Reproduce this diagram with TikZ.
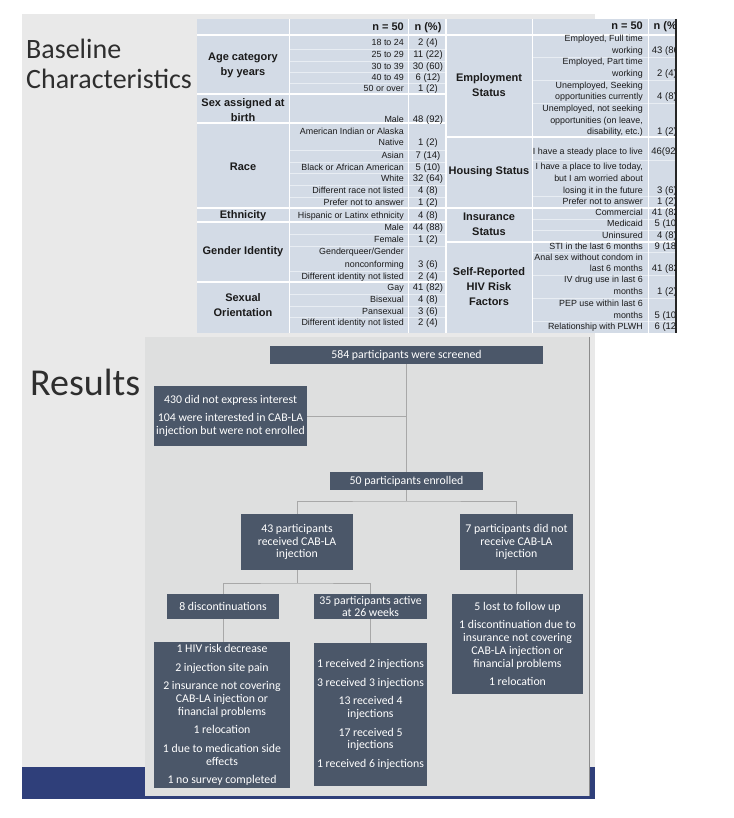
\documentclass[tikz,border=0pt]{standalone}
\usepackage{fontspec}
\setmainfont{Carlito}
\newfontfamily\tabfont{Liberation Sans}
\definecolor{slidebg}{HTML}{E9E9E9}
\definecolor{panelc}{HTML}{DEDFDF}
\definecolor{bandc}{HTML}{2F3F7A}
\definecolor{boxc}{HTML}{4B5769}
\definecolor{lineg}{HTML}{A8A8A8}
\definecolor{tabbg}{HTML}{D3DBE6}
\definecolor{rowln}{HTML}{E8EDF3}
\definecolor{tabtxt}{HTML}{1A1A1A}
\definecolor{titc}{HTML}{2E2E2E}
\newcounter{tn}
\newcommand\TI[3]{\stepcounter{tn}\node[itm] (ti\arabic{tn}) at (#1,#2) {#3};}
\newcommand\TV[3]{\stepcounter{tn}\node[val] (tv\arabic{tn}) at (#1,#2) {#3};}
\newcommand\TC[3]{\stepcounter{tn}\node[cat] (tc\arabic{tn}) at (#1,#2) {#3};}
\tikzset{
  fbox/.style={fill=boxc, text=white, inner sep=0pt, align=center,
    font=\fontsize{11.8}{12.8}\selectfont},
  conn/.style={draw=lineg, line width=0.8pt},
  itm/.style={anchor=mid east, inner sep=0pt, text=tabtxt,
    font=\tabfont\fontsize{8.9}{10}\selectfont},
  val/.style={anchor=mid, inner sep=0pt, text=tabtxt,
    font=\tabfont\fontsize{9.5}{10}\selectfont},
  cat/.style={anchor=center, inner sep=0pt, text=tabtxt, align=center,
    font=\tabfont\bfseries\fontsize{11}{15}\selectfont},
  hdr/.style={inner sep=0pt, text=tabtxt, font=\tabfont\bfseries\fontsize{11}{13}\selectfont},
  grpln/.style={draw=white, line width=1.6pt},
  rowl/.style={draw=rowln, line width=0.7pt},
  title/.style={inner sep=0pt, anchor=base west, text=titc}
}
\begin{document}
\begin{tikzpicture}[x=1pt,y=-1pt]
\useasboundingbox (0,0) rectangle (733,818);
% slide background
\fill[slidebg] (22,14) rectangle (595,799);
\fill[bandc] (22,767) rectangle (595,799);
% titles
\node[title, font=\fontsize{28}{30}\selectfont] (t1) at (26,59) {Baseline};
\node[title, font=\fontsize{28}{30}\selectfont] (t2) at (26,89) {Characteristics};
\node[title, font=\fontsize{38}{40}\selectfont] (t3) at (30,395) {Results};
% ---------------- table ----------------
\fill[tabbg] (197,19) rectangle (676,333);
% row lines left
\foreach \y in {49,61,72.5,83.5,150,162,173.5,185,197,234,246,271,294,306,317.5}
  \draw[rowl] (289,\y) -- (446,\y);
% row lines right
\foreach \y in {57,80,103,160,196,219,230,252,275,298,321}
  \draw[rowl] (532,\y) -- (676,\y);
% group lines
\draw[grpln] (197,35) -- (676,35);
\foreach \y in {94,123,208,222,282}
  \draw[grpln] (197,\y) -- (446,\y);
\foreach \y in {137,208,242}
  \draw[grpln] (446,\y) -- (676,\y);
% column lines
\foreach \x in {289,408,532,648}
  \draw[draw=white, line width=1pt] (\x,19) -- (\x,333);
\draw[draw=white, line width=2pt] (446,19) -- (446,333);
\draw[draw=black!85, line width=2pt] (676,19) -- (676,333);
% header
\node[hdr, anchor=mid east] (h1) at (404,28) {n = 50};
\node[hdr, anchor=mid] (h2) at (428,28) {n (\%)};
\node[hdr, anchor=mid east] (h3) at (643,27) {n = 50};
% left categories
\TC{243}{65.5}{Age category\\by years}
\TC{243}{110.5}{Sex assigned at\\birth}
\TC{243}{167}{Race}
\TC{243}{216}{Ethnicity}
\TC{243}{252}{Gender Identity}
\TC{243}{305.5}{Sexual\\Orientation}
% left items
\TI{404}{43}{18 to 24}\TV{428}{43}{2 (4)}
\TI{404}{55}{25 to 29}\TV{428}{55}{11 (22)}
\TI{404}{67}{30 to 39}\TV{428}{67}{30 (60)}
\TI{404}{78}{40 to 49}\TV{428}{78}{6 (12)}
\TI{404}{89}{50 or over}\TV{428}{89}{1 (2)}
\TI{404}{120}{Male}\TV{428}{120}{48 (92)}
\TI{404}{132}{American Indian or Alaska}
\TI{404}{143}{Native}\TV{428}{143}{1 (2)}
\TI{404}{156}{Asian}\TV{428}{156}{7 (14)}
\TI{404}{168}{Black or African American}\TV{428}{168}{5 (10)}
\TI{404}{179}{White}\TV{428}{179}{32 (64)}
\TI{404}{191}{Different race not listed}\TV{428}{191}{4 (8)}
\TI{404}{203}{Prefer not to answer}\TV{428}{203}{1 (2)}
\TI{404}{216}{Hispanic or Latinx ethnicity}\TV{428}{216}{4 (8)}
\TI{404}{228}{Male}\TV{428}{228}{44 (88)}
\TI{404}{240}{Female}\TV{428}{240}{1 (2)}
\TI{404}{252}{Genderqueer/Gender}
\TI{404}{265}{nonconforming}\TV{428}{265}{3 (6)}
\TI{404}{277}{Different identity not listed}\TV{428}{277}{2 (4)}
\TI{404}{288}{Gay}\TV{428}{288}{41 (82)}
\TI{404}{300}{Bisexual}\TV{428}{300}{4 (8)}
\TI{404}{312}{Pansexual}\TV{428}{312}{3 (6)}
\TI{404}{323}{Different identity not listed}\TV{428}{323}{2 (4)}
% right categories
\TC{489}{85.5}{Employment\\Status}
\TC{489}{172}{Housing Status}
\TC{489}{224.5}{Insurance\\Status}
\TC{489}{287}{Self-Reported\\HIV Risk\\Factors}
% right items
\TI{643}{39}{Employed, Full time}
\TI{643}{51}{working}
\TI{643}{62}{Employed, Part time}
\TI{643}{74}{working}
\TI{643}{86}{Unemployed, Seeking}
\TI{643}{97}{opportunities currently}
\TI{643}{109}{Unemployed, not seeking}
\TI{643}{121}{opportunities (on leave,}
\TI{643}{132}{disability, etc.)}
\TI{643}{152}{I have a steady place to live}
\TI{643}{167}{I have a place to live today,}
\TI{643}{179}{but I am worried about}
\TI{643}{191}{losing it in the future}
\TI{643}{202}{Prefer not to answer}
\TI{643}{213}{Commercial}
\TI{643}{224}{Medicaid}
\TI{643}{236}{Uninsured}
\TI{643}{247}{STI in the last 6 months}
\TI{643}{258}{Anal sex without condom in}
\TI{643}{269}{last 6 months}
\TI{643}{280}{IV drug use in last 6}
\TI{643}{292}{months}
\TI{643}{304}{PEP use within last 6}
\TI{643}{316}{months}
\TI{643}{327}{Relationship with PLWH}
% right values (cut off at the right edge)
\begin{scope}
\clip (648,19) rectangle (675,333);
\node[hdr, anchor=mid] (h4) at (667,27) {n (\%)};
\TV{667}{51}{43 (86)}
\TV{667}{74}{2 (4)}
\TV{667}{97}{4 (8)}
\TV{667}{132}{1 (2)}
\TV{665}{152}{46(92)}
\TV{667}{191}{3 (6)}
\TV{667}{202}{1 (2)}
\TV{667}{213}{41 (82)}
\TV{667}{224}{5 (10)}
\TV{667}{236}{4 (8)}
\TV{667}{247}{9 (18)}
\TV{667}{269}{41 (82)}
\TV{667}{292}{1 (2)}
\TV{667}{316}{5 (10)}
\TV{667}{327}{6 (12)}
\end{scope}
% ---------------- results panel ----------------
\fill[panelc] (145,337) rectangle (589,796);
\draw[draw=black!45, line width=0.8pt] (589,337) -- (589,796);
% boxes
\node[fbox, minimum width=273pt, minimum height=18pt] (screened) at (406.5,355) {584 participants were screened};
\node[fbox, minimum width=153pt, minimum height=60pt] (notint) at (230.5,416)
  {430 did not express interest\\[5.2pt]104 were interested in CAB-LA\\injection but were not enrolled};
\node[fbox, minimum width=153pt, minimum height=18pt] (enrolled) at (406.5,481) {50 participants enrolled};
\node[fbox, minimum width=112pt, minimum height=56pt] (recv) at (297,542)
  {43 participants\\received CAB-LA\\injection};
\node[fbox, minimum width=113pt, minimum height=56pt] (notrecv) at (516.5,542)
  {7 participants did not\\receive CAB-LA\\injection};
\node[fbox, minimum width=112pt, minimum height=25pt] (disc) at (223,606.5) {8 discontinuations};
\node[fbox, minimum width=113pt, minimum height=25pt, font=\fontsize{11.8}{12}\selectfont] (active) at (370.5,606.5)
  {35 participants active\\at 26 weeks};
\node[fbox, minimum width=131pt, minimum height=100pt] (lost) at (517.5,644)
  {5 lost to follow up\\[5.8pt]1 discontinuation due to\\insurance not covering\\CAB-LA injection or\\financial problems\\[5.8pt]1 relocation};
\node[fbox, minimum width=136pt, minimum height=146pt] (reasons) at (222,715)
  {1 HIV risk decrease\\[5.8pt]2 injection site pain\\[5.8pt]2 insurance not covering\\CAB-LA injection or\\financial problems\\[5.8pt]1 relocation\\[5.8pt]1 due to medication side\\effects\\[5.8pt]1 no survey completed};
\node[fbox, minimum width=113pt, minimum height=143pt] (counts) at (370.5,714.5)
  {1 received 2 injections\\[5.8pt]3 received 3 injections\\[5.8pt]13 received 4\\injections\\[5.8pt]17 received 5\\injections\\[5.8pt]1 received 6 injections};
% connectors
\coordinate (b0) at (406.5,416);
\coordinate (b1) at (406.5,501);
\coordinate (b2) at (297,583);
\draw[conn] (screened.south) -- (enrolled.north);
\draw[conn] (notint.east |- b0) -- (b0);
\draw[conn] (enrolled.south) -- (b1);
\draw[conn] (recv.north) |- (b1) -| (notrecv.north);
\draw[conn] (recv.south) -- (b2);
\draw[conn] (disc.north) |- (b2) -| (active.north);
\draw[conn] (notrecv.south) -- (notrecv.south |- lost.north);
\draw[conn] (disc.south) -- (disc.south |- reasons.north);
\draw[conn] (active.south) -- (active.south |- counts.north);
\end{tikzpicture}
\end{document}
